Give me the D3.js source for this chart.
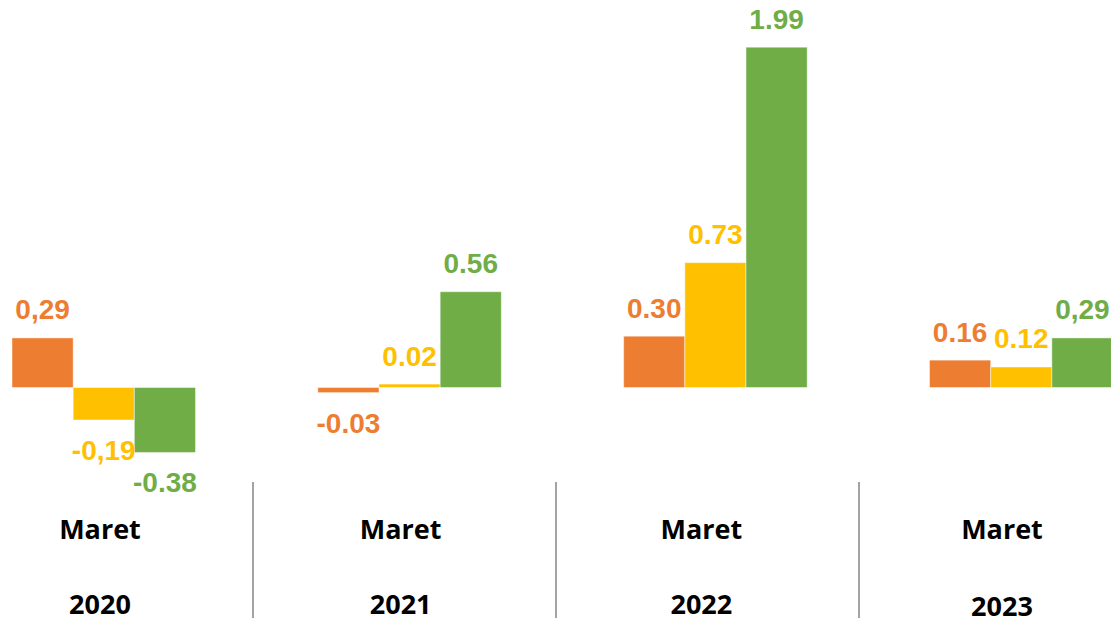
<!DOCTYPE html>
<html>
<head>
<meta charset="utf-8">
<script src="https://cdn.jsdelivr.net/npm/d3@7"></script>
<style>
  body { margin: 0; background: #fff; }
  svg { display: block; }
</style>
</head>
<body>
<svg id="chart" width="1111" height="618"></svg>
<script>
const width = 1111;
const height = 618;

// data
const years = ['2020', '2021', '2022', '2023'];
const month = 'Maret';
const series = ['s1', 's2', 's3'];
const colors = ['#ED7D31', '#FFC000', '#70AD47'];
const values = [
  [0.29, -0.19, -0.38],
  [-0.03, 0.02, 0.56],
  [0.30, 0.73, 1.99],
  [0.16, 0.12, 0.29]
];
const labels = [
  ['0,29', '-0,19', '-0.38'],
  ['-0.03', '0.02', '0.56'],
  ['0.30', '0.73', '1.99'],
  ['0.16', '0.12', '0,29']
];

const svg = d3.select('svg#chart');

const x0 = d3.scaleBand()
  .domain(years)
  .range([12, 1113])
  .paddingInner(0.4)
  .paddingOuter(0);

const x1 = d3.scaleBand()
  .domain(series)
  .range([0, x0.bandwidth()])
  .padding(0);

const y = d3.scaleLinear()
  .domain([0, 2])
  .range([387.5, 45.5]);

// category axis: label positions and cell boundaries
const xCat = d3.scalePoint()
  .domain(years)
  .range([100, 1002]);

const xCell = d3.scaleBand()
  .domain(years)
  .range([-50, 1162]);

const rows = [];
years.forEach((yr, i) => {
  series.forEach((s, j) => {
    rows.push({ year: yr, s: s, v: values[i][j], label: labels[i][j], color: colors[j] });
  });
});

const groups = svg.append('g').attr('class', 'bars');

groups.selectAll('rect').data(rows)
  .enter().append('rect')
    .attr('x', d => x0(d.year) + x1(d.s))
    .attr('width', x1.bandwidth())
    .attr('y', d => y(Math.max(0, d.v)))
    .attr('height', d => Math.abs(y(d.v) - y(0)))
    .attr('fill', d => d.color)
    .attr('stroke', '#fff')
    .attr('stroke-opacity', 0.45)
    .attr('stroke-width', 1);

groups.selectAll('text').data(rows)
  .enter().append('text')
    .attr('x', d => x0(d.year) + x1(d.s) + x1.bandwidth() / 2)
    .attr('y', d => d.v >= 0 ? y(d.v) - 18.5 : y(d.v) + 40)
    .attr('text-anchor', 'middle')
    .attr('fill', d => d.color)
    .style('font-family', '"Liberation Sans", Arial, sans-serif')
    .style('font-weight', 'bold')
    .style('font-size', '28px')
    .text(d => d.label);

// separators between categories
const seps = years.slice(1).map(yr => xCell(yr));
svg.append('g').selectAll('line').data(seps)
  .enter().append('line')
    .attr('x1', d => d).attr('x2', d => d)
    .attr('y1', 482).attr('y2', height)
    .attr('stroke', '#8c8c8c')
    .attr('stroke-width', 1.6);

const cat = svg.append('g').attr('class', 'categories')
  .style('font-family', '"Open Sans", sans-serif')
  .style('font-weight', 'bold')
  .style('font-size', '27px')
  .attr('fill', '#000');

cat.selectAll('text.month').data(years)
  .enter().append('text')
    .attr('class', 'month')
    .attr('x', d => xCat(d))
    .attr('y', 539)
    .attr('text-anchor', 'middle')
    .text(month);

cat.selectAll('text.year').data(years)
  .enter().append('text')
    .attr('class', 'year')
    .attr('x', d => xCat(d))
    .attr('y', d => d === '2023' ? 616 : 614)
    .attr('text-anchor', 'middle')
    .text(d => d);
</script>
</body>
</html>
